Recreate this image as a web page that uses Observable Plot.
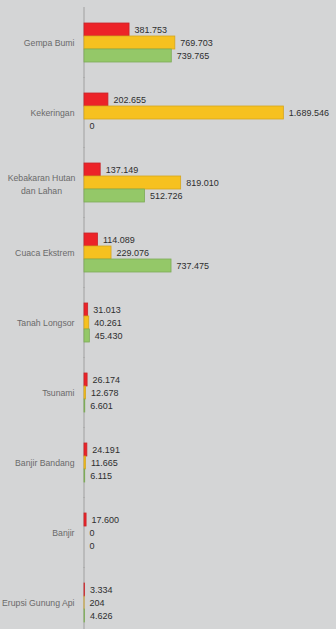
<!DOCTYPE html>
<html>
<head>
<meta charset="utf-8">
<script src="https://cdn.jsdelivr.net/npm/d3@7"></script>
<script src="https://cdn.jsdelivr.net/npm/@observablehq/plot@0.6"></script>
<style>
  html, body { margin: 0; padding: 0; background: #d4d5d6; }
  #chart svg { display: block; }
</style>
</head>
<body>
<div id="chart"></div>
<script>
const categories = ["Gempa Bumi", "Kekeringan", "Kebakaran Hutan\ndan Lahan", "Cuaca Ekstrem", "Tanah Longsor", "Tsunami", "Banjir Bandang", "Banjir", "Erupsi Gunung Api"];
const seriesNames = ["Seri 1", "Seri 2", "Seri 3"];
const seriesRed = [381753, 202655, 137149, 114089, 31013, 26174, 24191, 17600, 3334];
const seriesYellow = [769703, 1689546, 819010, 229076, 40261, 12678, 11665, 0, 204];
const seriesGreen = [739765, 0, 512726, 737475, 45430, 6601, 6115, 0, 4626];
const colors = ["#ec2328", "#f6c11f", "#94c868"];
const strokes = ["#c9242a", "#d6a51c", "#7dab58"];

const data = [];
const allSeries = [seriesRed, seriesYellow, seriesGreen];
categories.forEach((c, i) => {
  allSeries.forEach((s, j) => data.push({category: c, series: seriesNames[j], value: s[i]}));
});

const fmt = v => d3.format(",")(v).replace(/,/g, ".");
const font = "'Liberation Sans', sans-serif";
const singleLine = categories.filter(c => !c.includes("\n"));
const multiLine = categories.filter(c => c.includes("\n"));

const chart = Plot.plot({
  width: 336,
  height: 629,
  marginTop: 18,
  marginBottom: 2,
  marginLeft: 84,
  marginRight: 16,
  style: {background: "#d4d5d6", fontFamily: font},
  x: {domain: [0, 2000000], axis: null},
  y: {domain: seriesNames, axis: null, padding: 0},
  fy: {domain: categories, paddingInner: 0.408, paddingOuter: 0, axis: null},
  color: {domain: seriesNames, range: colors},
  facet: {data, y: "category"},
  marks: [
    Plot.text(singleLine, {fy: d => d, text: d => d, frameAnchor: "left", textAnchor: "end", dx: -10, fontSize: 8.7, fill: "#6a6a6a"}),
    Plot.text(multiLine, {fy: d => d, text: d => d, frameAnchor: "left", textAnchor: "middle", dx: -43, fontSize: 8.7, lineHeight: 1.55, fill: "#6a6a6a"}),
    Plot.ruleX([0], {stroke: "#a0a0a0", strokeWidth: 1, dx: -0.5, insetTop: -15, insetBottom: -15}),
    Plot.barX(data, {x: "value", y: "series", fill: "series", stroke: d => strokes[seriesNames.indexOf(d.series)], strokeWidth: 0.8}),
    Plot.text(data, {x: "value", y: "series", text: d => fmt(d.value), textAnchor: "start", dx: 5, fontSize: 9, fill: "#2e2e2e"})
  ]
});
document.getElementById("chart").appendChild(chart);
</script>
</body>
</html>
